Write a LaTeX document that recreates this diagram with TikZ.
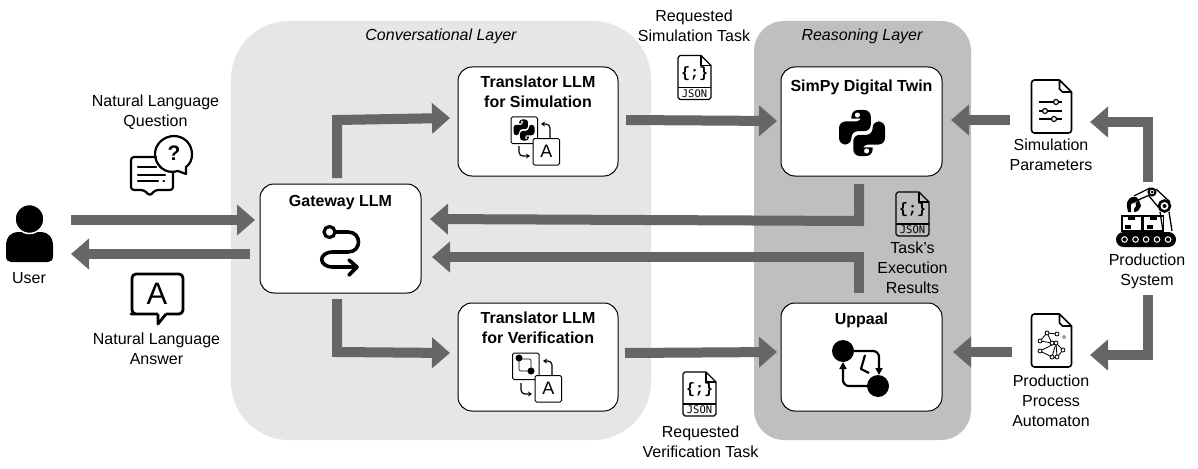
\documentclass[tikz,border=0pt]{standalone}
\usepackage{fontspec}
\setmainfont{Liberation Sans}
\setmonofont{Liberation Mono}
\newfontfamily\jsontag{DejaVu Sans Mono}
\usetikzlibrary{arrows.meta}
\definecolor{flowgray}{HTML}{666666}
\definecolor{convgray}{HTML}{E6E6E6}
\definecolor{reasongray}{HTML}{BFBFBF}
\tikzset{
	flow/.style = {line width = 10pt, color = flowgray, line join = miter, -{Triangle[length = 18pt, width = 30pt]}},
	panel/.style = {inner sep = 0pt, outer sep = 0pt},
	llmbox/.style = {draw, fill = white, line width = 1pt, rounded corners = 14pt, minimum width = 161pt, minimum height = 109pt, inner sep = 0pt, outer sep = 0pt},
	boxtitle/.style = {font = \fontsize{16}{20}\selectfont\bfseries, align = center, inner sep = 0pt},
	caption/.style = {font = \fontsize{16}{20}\selectfont, align = center, inner sep = 0pt},
	layertitle/.style = {font = \fontsize{16}{20}\selectfont\itshape, inner sep = 0pt},
	iconline/.style = {line width = 2.2pt, line cap = round, line join = round},
	thinarrow/.style = {line width = 1.2pt, -{Stealth[length = 4pt, width = 5pt]}, rounded corners = 4pt},
}
% python logo: centre x, centre y, half size
\newcommand{\pylogo}[3]{
	\begin{scope}[shift = {(#1, #2)}, x = #3pt, y = -#3pt]
		\fill [rounded corners = 0.28*#3pt] (-0.46, -0.62) -- (-0.46, -1) -- (0.38, -1) -- (0.38, -0.08) -- (-0.46, -0.08) -- (-0.46, 0.5) -- (-1, 0.5) -- (-1, -0.5) -- (0, -0.5) [sharp corners] -- (0, -0.62) -- cycle;
		\fill [rounded corners = 0.28*#3pt] (0.46, 0.62) -- (0.46, 1) -- (-0.38, 1) -- (-0.38, 0.08) -- (0.46, 0.08) -- (0.46, -0.5) -- (1, -0.5) -- (1, 0.5) -- (0, 0.5) [sharp corners] -- (0, 0.62) -- cycle;
		\fill [white] (-0.2, -0.78) circle (0.11);
		\fill [white] (0.2, 0.78) circle (0.11);
	\end{scope}
}
% json file: left, top, name
\newcommand{\jsonicon}[3]{
	\begin{scope}[shift = {(#1, #2)}]
		\draw [line width = 1.2pt, line join = round] (23, 0) -- (2, 0) -- (0, 2) -- (0, 42) -- (2, 44) -- (31, 44) -- (33, 42) -- (33, 10) -- cycle;
		\draw [line width = 1.2pt] (23, 0) -- (23, 10) -- (33, 10);
		\draw [line width = 1.2pt] (0, 32) -- (33, 32);
		\node [inner sep = 0pt, font = \fontsize{15}{15}\selectfont\ttfamily\bfseries] (#3braces) at (16.5, 18) {\{;\}};
		\node [inner sep = 0pt, font = \fontsize{10.5}{10.5}\selectfont\jsontag] (#3tag) at (16.5, 38) {JSON};
	\end{scope}
}
% page with a folded corner: left, top
\newcommand{\pageicon}[2]{
	\begin{scope}[shift = {(#1, #2)}]
		\draw [line width = 1.6pt, rounded corners = 3pt] (28, 0) -- (0, 0) -- (0, 53) -- (40, 53) -- (40, 12);
		\draw [line width = 1.6pt, line join = round] (28, 0) -- (40, 12) -- (31, 12) -- (28, 9) -- cycle;
	\end{scope}
}
% translator boxes: left, top, name
\newcommand{\letterbox}[3]{
	\draw [fill = white, line width = 1pt, rounded corners = 1.5pt] (#1, #2) rectangle ++(26.5, 26.5);
	\node [inner sep = 0pt, font = \fontsize{18}{18}\selectfont] (#3) at (#1 + 13.25, #2 + 13.25) {A};
}
\begin{document}
\begin{tikzpicture}[x = 1pt, y = -1pt]
		\useasboundingbox (0, 0) rectangle (1198, 468);
		%%%%%%%%%%%%%
		\node [panel, fill = convgray, rounded corners = 58pt, minimum width = 420pt, minimum height = 419pt] (convlayer) at (441, 230.5) {};
		\node [panel, fill = reasongray, rounded corners = 30pt, minimum width = 217pt, minimum height = 419pt] (reasonlayer) at (862.5, 230.5) {};
		\node [layertitle] (convtitle) at (441, 36.5) {Conversational Layer};
		\node [layertitle] (reasontitle) at (862, 36.5) {Reasoning Layer};
		%%%%%%%%%%%%%
		\node [llmbox] (gateway) at (340.5, 238.5) {};
		\node [llmbox, minimum width = 160pt] (transsim) at (538, 121.5) {};
		\node [llmbox, minimum width = 160pt, minimum height = 108pt] (transver) at (538, 357) {};
		\node [llmbox] (simpy) at (861.5, 121.5) {};
		\node [llmbox, minimum height = 108pt] (uppaal) at (861.5, 357) {};
		\node [boxtitle] (gatewaytitle) at (340.5, 202.5) {Gateway LLM};
		\node [boxtitle] (transsimtitle) at (538, 92) {Translator LLM\\for Simulation};
		\node [boxtitle] (transvertitle) at (538, 328) {Translator LLM\\for Verification};
		\node [boxtitle] (simpytitle) at (861.5, 87) {SimPy Digital Twin};
		\node [boxtitle] (uppaaltitle) at (861.5, 320) {Uppaal};
		%%%%%%%%%%%%%
		\node [caption] (user) at (29, 278) {User};
		\node [caption] (question) at (155.5, 112) {Natural Language\\Question};
		\node [caption] (answer) at (156.5, 349) {Natural Language\\Answer};
		\node [caption] (reqsim) at (694, 26) {Requested\\Simulation Task};
		\node [caption] (reqver) at (700.5, 442) {Requested\\Verification Task};
		\node [caption] (results) at (912.5, 268) {Task's\\Execution\\Results};
		\node [caption] (simparams) at (1051, 154.5) {Simulation\\Parameters};
		\node [caption] (prodsystem) at (1147, 271.5) {Production\\System};
		\node [caption] (automaton) at (1051, 401) {Production\\Process\\Automaton};
		%%%%%%%%%%%%%
		\coordinate (userout) at (71, 220);
		\coordinate (userin) at (71, 254);
		\coordinate (paramsout) at (1010, 120);
		\coordinate (paramsin) at (1090, 122);
		\coordinate (autoout) at (1012, 352);
		\coordinate (autoin) at (1090, 355);
		\coordinate (robottop) at (1148, 182);
		\coordinate (robotbottom) at (1148, 295);
		%%%%%%%%%%%%%
		\draw [flow] (userout) to ([shift = {(-5, -18.5)}]gateway.west);
		\draw [flow] ([shift = {(-10, 15.5)}]gateway.west) to (userin);
		\draw [flow] ([shift = {(-3.5, -6)}]gateway.north) -- (337, 120) -- ([shift = {(-8, -3.5)}]transsim.west);
		\draw [flow] ([shift = {(-3.5, 6)}]gateway.south) -- (337, 352) -- ([shift = {(-8, -4)}]transver.west);
		\draw [flow] ([shift = {(8, -1.5)}]transsim.east) to ([shift = {(-4, -0.5)}]simpy.west);
		\draw [flow] ([shift = {(7, -4)}]transver.east) to ([shift = {(-4, -5)}]uppaal.west);
		\draw [flow] ([shift = {(-2.5, 8)}]simpy.south) -- (859, 221) -- ([shift = {(9, -19.5)}]gateway.east);
		\draw [flow] ([shift = {(-2.5, -10)}]uppaal.north) -- (859, 257) -- ([shift = {(11, 18.5)}]gateway.east);
		\draw [flow] (paramsout) to ([shift = {(9, -1.5)}]simpy.east);
		\draw [flow] (autoout) to ([shift = {(11, -5)}]uppaal.east);
		\draw [flow] (robottop) -- (1148, 122) -- (paramsin);
		\draw [flow] (robotbottom) -- (1148, 355) -- (autoin);
		%%%%%%%%%%%%% user
		\fill (6, 256) -- (6, 246) .. controls (6, 236) and (12, 232) .. (18, 232) -- (41, 232) .. controls (48, 232) and (53, 237) .. (53, 246) -- (53, 256) .. controls (53, 260) and (51, 262) .. (48, 262) -- (11, 262) .. controls (8, 262) and (6, 260) .. (6, 256) -- cycle;
		\draw [white, fill = black, line width = 1.5pt] (29.5, 219) circle (14.5);
		%%%%%%%%%%%%% question and answer bubbles
		\draw [iconline, rounded corners = 3pt] (156, 157) -- (131, 157) -- (131, 190) -- (144, 190) -- (150, 196) -- (155, 190) -- (173, 190) -- (173, 172);
		\draw [iconline] (138, 167) -- (156, 167);
		\draw [iconline] (138, 175) -- (165, 175);
		\draw [iconline] (138, 181) -- (158, 181);
		\draw [iconline] (163.5, 181) -- (164, 181);
		\draw [iconline] (186, 167) -- (186, 174) -- (178, 171) .. controls (165, 175) and (155, 165) .. (155, 154) .. controls (155, 144) and (164, 136) .. (174, 136) .. controls (184, 136) and (192, 144) .. (192, 154) .. controls (192, 160) and (190, 164) .. (186, 167);
		\node [inner sep = 0pt, font = \fontsize{21}{21}\selectfont\bfseries] (questionmark) at (174, 153) {?};
		\draw [line width = 2.8pt, line join = round, rounded corners = 4pt] (158, 314) -- (135, 314) -- (132, 314) -- (132, 274) -- (183, 274) -- (183, 314) -- (166, 314);
		\draw [line width = 2.8pt, line join = round] (166, 314) -- (158, 324) -- (158, 314);
		\node [inner sep = 0pt, font = \fontsize{31}{31}\selectfont] (answerletter) at (157, 294) {A};
		%%%%%%%%%%%%% gateway icon
		\draw [line width = 3.2pt] (329.5, 232) circle (5.5);
		\draw [line width = 3.6pt, line cap = round] (335, 232) -- (348, 232) .. controls (362, 232) and (362, 252) .. (348, 252) -- (333, 252) .. controls (318, 252) and (318, 267) .. (333, 267) -- (356, 267);
		\draw [line width = 3.6pt, line cap = round, line join = round] (349, 260) -- (357, 267) -- (349, 275);
		%%%%%%%%%%%%% translator icons
		\draw [fill = white, line width = 1pt, rounded corners = 1.5pt] (511, 117) rectangle ++(26.5, 26.5);
		\pylogo{524}{130}{10.5}
		\letterbox{533}{138.5}{transsimletter}
		\draw [thinarrow] (550, 138) -- (550, 124) -- (541, 124);
		\draw [thinarrow] (519, 146) -- (519, 156) -- (530, 156);
		\draw [fill = white, line width = 1pt, rounded corners = 1.5pt] (512.5, 353) rectangle ++(26.5, 26.5);
		\draw [line width = 0.6pt, rounded corners = 2pt] (519, 359) -- (531, 359) -- (531, 371) -- (519, 371) -- cycle;
		\fill (519, 358) circle (3.5);
		\fill (531, 371) circle (3.5);
		\letterbox{535}{375.5}{transverletter}
		\draw [thinarrow] (552, 375) -- (552, 361) -- (543, 361);
		\draw [thinarrow] (521, 383) -- (521, 394) -- (532, 394);
		%%%%%%%%%%%%% reasoning icons
		\pylogo{862}{133}{23}
		\fill (843, 351) circle (11);
		\fill (878, 386) circle (11);
		\draw [line width = 2.2pt, rounded corners = 6pt, -{Triangle[length = 7pt, width = 7pt]}] (843, 351) -- (879, 351) -- (879, 375);
		\draw [line width = 2.2pt, rounded corners = 6pt, -{Triangle[length = 7pt, width = 7pt]}] (878, 386) -- (843, 386) -- (843, 362);
		\draw [line width = 2.2pt, line join = round] (865, 355) -- (861, 369) -- (869, 373);
		%%%%%%%%%%%%% json files
		\jsonicon{678}{55.5}{jsonsim}
		\jsonicon{683}{372}{jsonver}
		\jsonicon{896}{192}{jsonres}
		%%%%%%%%%%%%% parameters page
		\pageicon{1031.5}{80}
		\draw [line width = 1.2pt] (1039, 102) -- (1062, 102);
		\draw [line width = 1.2pt] (1039, 111) -- (1062, 111);
		\draw [line width = 1.2pt] (1039, 119) -- (1062, 119);
		\draw [line width = 1.2pt, fill = white] (1056, 102) circle (2.5);
		\draw [line width = 1.2pt, fill = white] (1045, 111) circle (2.5);
		\draw [line width = 1.2pt, fill = white] (1054, 119) circle (2.5);
		%%%%%%%%%%%%% automaton page
		\pageicon{1031.5}{314}
		\foreach \xa/\ya/\xb/\yb in {1047/333/1057/334, 1047/333/1040/341, 1047/333/1052/343, 1040/341/1052/343, 1040/351/1056/343, 1056/343/1063/350, 1063/350/1057/357, 1040/351/1052/357, 1052/357/1057/357, 1056/343/1052/357, 1056/343/1057/357}
			\draw [line width = 0.8pt] (\xa, \ya) -- (\xb, \yb);
		\foreach \xa/\ya in {1047/333, 1057/334, 1040/341, 1052/343, 1056/343, 1040/351, 1052/357, 1057/357, 1063/350}
			\draw [line width = 0.8pt, fill = white] (\xa, \ya) circle (2);
		\draw [line width = 0.8pt, gray] (1064, 337) circle (1.5);
		%%%%%%%%%%%%% production system
		\fill [rounded corners = 7.5pt] (1116, 232) rectangle (1176, 247);
		\foreach \xa in {1124.5, 1135.5, 1146, 1157, 1168}
			\draw [white, line width = 1pt] (\xa, 239.5) circle (2.8);
		\foreach \xa in {1122, 1143.5} {
			\draw [line width = 1.3pt] (\xa, 216) rectangle ++(20, 15);
			\fill (\xa + 6, 216) rectangle ++(7, 4);
			\fill (\xa + 3, 225) rectangle ++(6, 4);
		}
		\draw [line width = 1.3pt] (1169, 212) -- (1172, 231);
		\draw [line width = 1.3pt] (1160, 212) -- (1163, 231);
		\draw [line width = 1.3pt] (1156, 189) -- (1170, 202);
		\draw [line width = 1.3pt] (1149, 196) -- (1159, 208);
		\draw [line width = 1.3pt] (1150, 188) -- (1134, 196);
		\draw [line width = 1.3pt] (1152, 194) -- (1138, 200);
		\draw [line width = 2.6pt, fill = white] (1164.5, 206) circle (5.5);
		\fill (1164.5, 206) circle (2);
		\draw [line width = 2pt, fill = white] (1152, 192) circle (3.5);
		\fill (1152, 192) circle (1.5);
		\fill (1127, 207) .. controls (1126, 199) and (1131, 196) .. (1136, 197) -- (1139, 200) -- (1134, 203) .. controls (1132, 202) and (1130, 204) .. (1131, 208) -- (1131, 212) -- (1128, 212) -- cycle;
		\fill (1139, 200) -- (1141, 206) .. controls (1140, 209) and (1138, 212) .. (1134, 212) -- (1134, 209) .. controls (1136, 207) and (1137, 205) .. (1135.5, 203) -- cycle;
\end{tikzpicture}
\end{document}
